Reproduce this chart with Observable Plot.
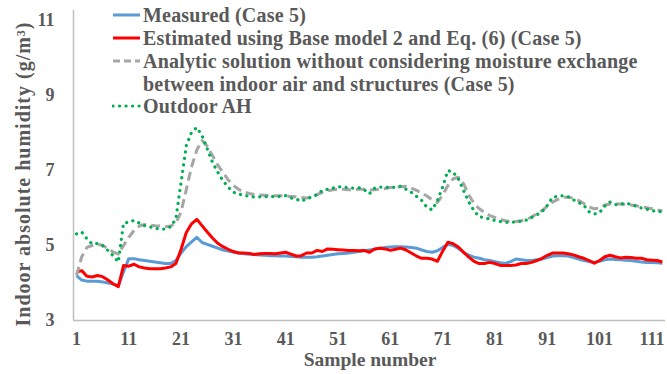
<!DOCTYPE html>
<html><head><meta charset="utf-8">
<script src="https://cdn.jsdelivr.net/npm/d3@7"></script>
<script src="https://cdn.jsdelivr.net/npm/@observablehq/plot@0.6"></script>
<style>
body{margin:0;background:#fff;}
#wrap{position:relative;width:667px;height:374px;font-family:"Liberation Serif","Times New Roman",serif;font-weight:bold;color:#595959;}
.row{position:absolute;left:112px;height:18px;display:flex;align-items:center;white-space:nowrap;font-size:20px;line-height:18px;letter-spacing:0.2px;}
.row svg{flex:none;margin-right:2px;}
.cont{position:absolute;left:143px;height:18px;white-space:nowrap;font-size:20px;line-height:18px;letter-spacing:0.2px;}
</style></head><body><div id="wrap"></div>
<script>
const xTicks = [1, 11, 21, 31, 41, 51, 61, 71, 81, 91, 101, 111];
const yTicks = [3, 5, 7, 9, 11];
const seriesNames = [
  "Measured (Case 5)",
  "Estimated using Base model 2 and Eq. (6) (Case 5)",
  "Analytic solution without considering moisture exchange between indoor air and structures (Case 5)",
  "Outdoor AH"
];
const measured = [4.2,4.08,4.05,4.05,4.05,4.03,4.0,3.97,3.93,4.3,
4.65,4.65,4.62,4.6,4.58,4.56,4.54,4.52,4.52,4.6,
4.8,4.97,5.1,5.22,5.08,5.03,4.98,4.93,4.88,4.85,
4.82,4.8,4.78,4.77,4.76,4.75,4.74,4.73,4.73,4.72,
4.72,4.71,4.7,4.69,4.69,4.69,4.7,4.72,4.74,4.76,
4.78,4.79,4.8,4.82,4.84,4.86,4.88,4.9,4.93,4.95,
4.96,4.97,4.97,4.96,4.95,4.93,4.88,4.84,4.82,4.86,
4.95,5.03,5.0,4.92,4.82,4.74,4.69,4.66,4.62,4.6,
4.57,4.54,4.52,4.57,4.64,4.62,4.6,4.6,4.62,4.64,
4.68,4.72,4.73,4.73,4.72,4.68,4.64,4.6,4.57,4.55,
4.58,4.62,4.64,4.63,4.62,4.61,4.6,4.58,4.56,4.55,
4.55,4.54,4.53];
const estimated = [4.29,4.33,4.18,4.16,4.2,4.17,4.08,3.98,3.9,4.47,
4.45,4.5,4.43,4.4,4.38,4.38,4.38,4.4,4.43,4.52,
4.9,5.35,5.58,5.7,5.53,5.36,5.2,5.06,4.97,4.9,
4.84,4.8,4.8,4.79,4.76,4.78,4.79,4.79,4.78,4.8,
4.82,4.77,4.72,4.73,4.8,4.8,4.87,4.84,4.91,4.9,
4.89,4.88,4.87,4.87,4.86,4.87,4.82,4.91,4.93,4.91,
4.87,4.9,4.93,4.88,4.8,4.72,4.66,4.66,4.64,4.58,
4.85,5.09,5.05,4.96,4.82,4.69,4.58,4.52,4.52,4.55,
4.52,4.47,4.47,4.47,4.48,4.52,4.52,4.55,4.6,4.66,
4.74,4.8,4.8,4.8,4.78,4.75,4.7,4.66,4.6,4.53,
4.6,4.7,4.74,4.7,4.67,4.69,4.68,4.66,4.66,4.62,
4.61,4.6,4.56];
const analytic = [4.2,4.7,4.95,5.0,5.04,5.0,4.92,4.83,4.77,5.0,
5.22,5.4,5.52,5.56,5.55,5.53,5.52,5.5,5.52,5.6,
5.9,6.5,7.1,7.55,7.8,7.65,7.4,7.15,6.95,6.75,
6.6,6.5,6.43,6.39,6.36,6.35,6.34,6.33,6.33,6.33,
6.32,6.31,6.3,6.28,6.27,6.3,6.36,6.42,6.46,6.49,
6.5,6.5,6.49,6.49,6.5,6.5,6.48,6.49,6.5,6.52,
6.55,6.56,6.57,6.58,6.53,6.47,6.4,6.32,6.22,6.15,
6.35,6.6,6.78,6.82,6.65,6.35,6.12,5.98,5.88,5.8,
5.75,5.7,5.66,5.64,5.64,5.66,5.7,5.76,5.85,5.93,
6.05,6.16,6.23,6.29,6.29,6.26,6.2,6.12,6.03,5.98,
6.0,6.08,6.11,6.11,6.11,6.1,6.08,6.06,6.03,6.01,
5.98,5.95,5.93];
const outdoor = [5.31,5.36,5.18,5.04,5.05,5.0,4.87,4.73,4.56,5.6,
5.62,5.67,5.6,5.53,5.5,5.46,5.44,5.44,5.5,5.71,
6.69,7.67,8.02,8.15,7.93,7.58,7.22,6.96,6.73,6.56,
6.42,6.38,6.33,6.32,6.29,6.3,6.3,6.31,6.3,6.31,
6.33,6.27,6.24,6.18,6.25,6.29,6.36,6.47,6.5,6.53,
6.57,6.56,6.54,6.53,6.54,6.49,6.38,6.53,6.56,6.56,
6.54,6.56,6.58,6.5,6.42,6.31,6.2,6.02,5.95,6.2,
6.56,7.0,6.96,6.78,6.47,6.16,5.93,5.76,5.75,5.7,
5.67,5.64,5.62,5.62,5.63,5.65,5.68,5.75,5.82,5.9,
6.07,6.29,6.31,6.33,6.3,6.22,6.15,6.07,5.9,5.84,
5.88,6.05,6.16,6.09,6.1,6.13,6.1,6.05,6.0,5.97,
5.93,5.91,5.9];
const samples = measured.map((_, i) => i + 1);

const styles = [
  {stroke: "#5b9bd5", strokeWidth: 3, dash: null, cap: "butt"},
  {stroke: "#ff0000", strokeWidth: 3, dash: null, cap: "butt"},
  {stroke: "#a6a6a6", strokeWidth: 3, dash: "9,5", cap: "butt"},
  {stroke: "#00b050", strokeWidth: 3.2, dash: "0.1,6.4", cap: "round"}
];
const series = [measured, estimated, analytic, outdoor];

const xDomain = [0.43, 113.6];
const yDomain = [3, 11.27];
const font = '"Liberation Serif","Times New Roman",serif';

const lineMarks = series.map((vals, k) => Plot.line(samples.map((s, i) => ({s, v: vals[i]})), {
  x: "s", y: "v", stroke: styles[k].stroke, strokeWidth: styles[k].strokeWidth,
  strokeDasharray: styles[k].dash, strokeLinecap: styles[k].cap, strokeLinejoin: "round"
}));

const chart = Plot.plot({
  width: 667, height: 374,
  marginLeft: 73, marginRight: 2, marginTop: 10, marginBottom: 54,
  style: {fontFamily: font, fontWeight: "bold", fontSize: "18px", color: "#595959", background: "#fff"},
  x: {domain: xDomain},
  y: {domain: yDomain},
  marks: [
    Plot.axisX({ticks: xTicks, tickSize: 0, tickPadding: 12, label: null, fill: "#595959"}),
    Plot.axisY({ticks: yTicks, tickSize: 0, tickPadding: 19, label: null, fill: "#595959"}),
    Plot.ruleY([yDomain[0]], {stroke: "#bfbfbf", strokeWidth: 1.5}),
    Plot.ruleX([xDomain[0]], {stroke: "#bfbfbf", strokeWidth: 1.5}),
    ...lineMarks
  ]
});

const wrap = document.getElementById("wrap");
wrap.appendChild(chart);

const svg = d3.select(chart);
svg.append("text").attr("x", 370).attr("y", 366).attr("text-anchor", "middle")
  .attr("fill", "#595959").style("font-size", "19.5px").style("font-weight", "bold")
  .text("Sample number");
svg.append("text").attr("transform", "translate(30,174) rotate(-90)").attr("text-anchor", "middle")
  .attr("fill", "#595959").style("font-size", "20px").style("font-weight", "bold").style("letter-spacing", "1px")
  .text("Indoor absolute humidity (g/m³)");

// legend overlay
const rowsY = [15, 38, 61, 106];
const legendTexts = [seriesNames[0], seriesNames[1], "Analytic solution without considering moisture exchange", seriesNames[3]];
legendTexts.forEach((t, k) => {
  const row = document.createElement("div");
  row.className = "row";
  row.style.top = (rowsY[k] - 9) + "px";
  const st = styles[k];
  row.innerHTML = `<svg width="29" height="8"><line x1="1" x2="28" y1="4" y2="4" stroke="${st.stroke}" stroke-width="${st.strokeWidth}" ${st.dash ? `stroke-dasharray="${k===2?'7,4':st.dash}"` : ""} stroke-linecap="${st.cap}"/></svg>${t}`;
  wrap.appendChild(row);
});
const cont = document.createElement("div");
cont.className = "cont";
cont.style.top = (84 - 9) + "px";
cont.textContent = "between indoor air and structures (Case 5)";
wrap.appendChild(cont);
</script>
</body></html>
